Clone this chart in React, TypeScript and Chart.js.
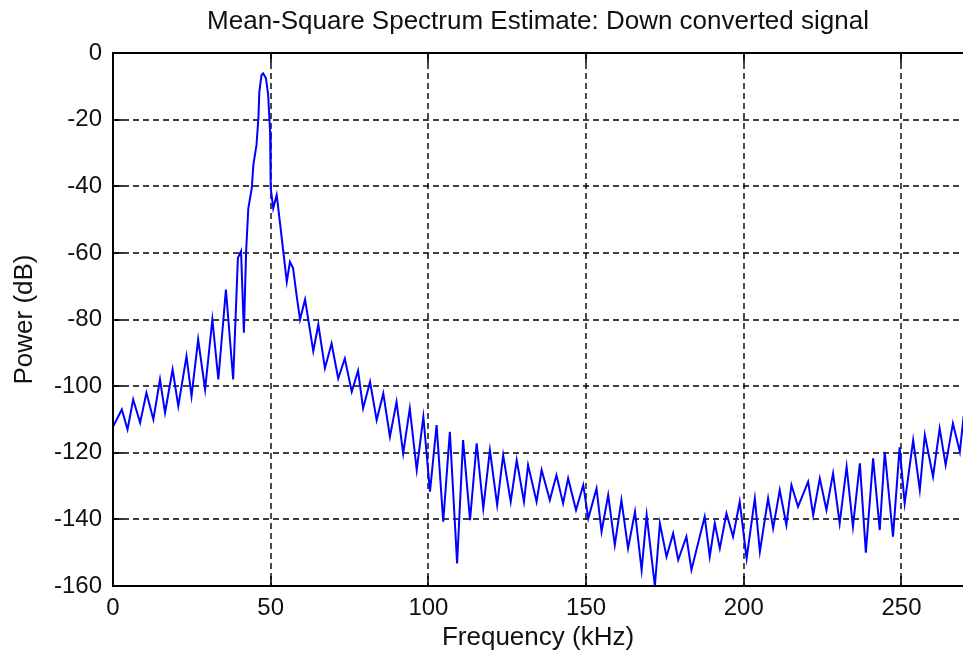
import React, { useEffect, useRef } from "react";
import { Chart, registerables } from "chart.js";

Chart.register(...registerables);

// ---- Data ----
const freqKHz = [
  0.1, 2.8, 4.6, 6.4, 8.6, 10.6, 12.8, 14.9, 16.5, 18.9, 20.7, 23.3, 24.9, 27.0, 29.2, 31.5, 33.4, 35.8, 38.1,
  39.6, 40.6, 41.5, 42.2, 42.9, 44.0, 44.5, 45.5, 46.1, 46.4, 47.1, 47.6, 48.5, 49.2, 49.8, 50.0, 50.8, 51.9,
  52.9, 54.0, 55.1, 56.1, 57.1, 58.2, 59.3, 60.9, 63.5, 65.1, 67.2, 69.3, 71.4, 73.5, 75.7, 77.7, 79.3, 81.5,
  83.6, 85.7, 87.8, 89.9, 92.0, 94.1, 96.3, 98.4, 100.5, 102.6, 104.7, 106.8, 109.1, 111.0, 113.2, 115.3,
  117.4, 119.5, 121.8, 123.7, 126.1, 128.0, 130.3, 131.6, 134.3, 135.9, 138.5, 140.6, 142.7, 144.3, 146.8,
  149.1, 150.7, 153.3, 154.9, 157.0, 159.1, 161.2, 163.3, 165.5, 167.6, 169.2, 171.8, 173.4, 175.5, 177.6,
  179.2, 181.8, 183.4, 187.6, 189.2, 190.8, 192.4, 194.5, 196.6, 198.7, 200.9, 203.5, 205.1, 207.7, 209.3,
  211.4, 213.5, 215.1, 217.2, 220.4, 222.0, 224.1, 226.2, 228.3, 230.4, 232.6, 234.6, 236.8, 238.7, 241.0,
  243.1, 244.7, 247.3, 249.4, 251.0, 253.7, 255.8, 257.4, 260.0, 262.1, 264.0, 266.3, 268.5, 269.7,
];
const powerDB = [
  -112, -107, -113, -104, -111, -102, -110, -98, -108, -95, -106, -91, -103, -86, -101, -80, -98, -71, -98,
  -61.5, -59.5, -84, -59.7, -46.6, -40.6, -33.6, -27.6, -19.6, -11.6, -6.6, -6.1, -7.6, -12.6, -23.6, -40.6,
  -46.6, -42.6, -50.6, -59.6, -68.7, -62.7, -64.6, -72.7, -80, -74, -89.5, -81.5, -94.6, -87.2, -97.7, -91.7,
  -101.7, -95.4, -106.7, -98.7, -110.2, -102.2, -115.2, -104.7, -120.2, -106.7, -125.2, -109.2, -131.7,
  -111.7, -140.7, -113.7, -153.2, -116.2, -140.2, -117.2, -136.7, -119.2, -135.7, -120.7, -134.7, -122.2,
  -134.7, -123.7, -134.7, -125.2, -134.2, -126.7, -135.2, -127.7, -137.2, -129.7, -139.7, -130.7, -143.7,
  -132.7, -147.7, -134.2, -148.7, -137.7, -155.2, -138.7, -160, -141.2, -151.2, -144.2, -152.2, -145.2,
  -155.2, -139.2, -151.2, -141.2, -148.7, -138.2, -145.2, -134.7, -151.7, -133.7, -149.7, -133.7, -142.7,
  -131.2, -141.7, -129.7, -136.2, -128.7, -138.7, -127.7, -137.2, -126.2, -141.2, -124.2, -142.2, -123.2,
  -150, -121.7, -143.2, -119.7, -145.2, -118.4, -135.2, -116.2, -131.2, -114.7, -127.2, -112.7, -123.7,
  -111.2, -119.7, -109,
];
const xTicksKHz = [0, 50, 100, 150, 200, 250];
const yTicksDB = [0, -20, -40, -60, -80, -100, -120, -140, -160];
const xRange = [0, 269.5];
const yRange = [-160, 0];
const chartTitle = "Mean-Square Spectrum Estimate: Down converted signal";
const xLabel = "Frequency (kHz)";
const yLabel = "Power (dB)";

const FONT = '"Liberation Sans", Arial, Helvetica, sans-serif';
const TEXT = "#111";

export default function App() {
  const ref = useRef<HTMLCanvasElement | null>(null);

  useEffect(() => {
    const canvas = ref.current;
    if (!canvas) return;

    const framePlugin = {
      id: "matlabFrame",
      beforeDatasetsDraw(chart: any) {
        const { ctx, chartArea: a, scales } = chart;
        ctx.save();
        ctx.strokeStyle = "#000";
        ctx.lineWidth = 1.4;
        ctx.setLineDash([6, 4]);
        for (const v of xTicksKHz) {
          const px = Math.round(scales.x.getPixelForValue(v));
          ctx.beginPath();
          ctx.moveTo(px, a.top);
          ctx.lineTo(px, a.bottom);
          ctx.stroke();
        }
        for (const v of yTicksDB) {
          const py = Math.round(scales.y.getPixelForValue(v));
          ctx.beginPath();
          ctx.moveTo(a.left, py);
          ctx.lineTo(a.right, py);
          ctx.stroke();
        }
        ctx.restore();
      },
      afterDatasetsDraw(chart: any) {
        const { ctx, chartArea: a, scales } = chart;
        ctx.save();
        ctx.strokeStyle = "#000";
        ctx.setLineDash([]);
        ctx.lineWidth = 2;
        ctx.beginPath();
        ctx.moveTo(a.right + 2, a.top);
        ctx.lineTo(a.left, a.top);
        ctx.lineTo(a.left, a.bottom);
        ctx.lineTo(a.right + 2, a.bottom);
        ctx.stroke();
        ctx.lineWidth = 1.6;
        const tl = 10;
        for (const v of xTicksKHz) {
          const px = Math.round(scales.x.getPixelForValue(v));
          ctx.beginPath();
          ctx.moveTo(px, a.bottom);
          ctx.lineTo(px, a.bottom - tl);
          ctx.moveTo(px, a.top);
          ctx.lineTo(px, a.top + tl);
          ctx.stroke();
        }
        for (const v of yTicksDB) {
          const py = Math.round(scales.y.getPixelForValue(v));
          ctx.beginPath();
          ctx.moveTo(a.left, py);
          ctx.lineTo(a.left + tl, py);
          ctx.stroke();
        }
        ctx.restore();
      },
      afterDraw(chart: any) {
        const { ctx, chartArea: a } = chart;
        ctx.save();
        ctx.fillStyle = TEXT;
        ctx.textAlign = "center";
        ctx.textBaseline = "middle";
        ctx.font = `26px ${FONT}`;
        ctx.fillText(chartTitle, (a.left + a.right) / 2, 22);
        ctx.fillText(xLabel, (a.left + a.right) / 2, 638);
        ctx.translate(25, (a.top + a.bottom) / 2);
        ctx.rotate(-Math.PI / 2);
        ctx.fillText(yLabel, 0, 0);
        ctx.restore();
      },
    };

    const points = freqKHz.map((f, i) => ({ x: f, y: powerDB[i] }));

    const chart = new Chart(canvas, {
      type: "line",
      data: {
        datasets: [
          {
            data: points,
            borderColor: "#0000ff",
            borderWidth: 2,
            pointRadius: 0,
            tension: 0,
            fill: false,
          },
        ],
      },
      options: {
        responsive: false,
        animation: false,
        devicePixelRatio: 1,
        layout: { padding: { top: 53, left: 0, right: 0, bottom: 0 } },
        plugins: {
          legend: { display: false },
          tooltip: { enabled: false },
          title: { display: false },
        },
        scales: {
          x: {
            type: "linear",
            min: xRange[0],
            max: xRange[1],
            afterFit: (s: any) => {
              s.height = 69;
            },
            afterBuildTicks: (s: any) => {
              s.ticks = xTicksKHz.map((v) => ({ value: v }));
            },
            grid: { display: false, drawTicks: false },
            border: { display: false },
            ticks: {
              padding: 8,
              autoSkip: false,
              maxRotation: 0,
              color: TEXT,
              font: { family: FONT, size: 24 },
              callback: (v: any) => String(v),
            },
          },
          y: {
            type: "linear",
            min: yRange[0],
            max: yRange[1],
            afterFit: (s: any) => {
              s.width = 113;
            },
            afterBuildTicks: (s: any) => {
              s.ticks = yTicksDB.map((v) => ({ value: v }));
            },
            grid: { display: false, drawTicks: false },
            border: { display: false },
            ticks: {
              padding: 11,
              autoSkip: false,
              color: TEXT,
              font: { family: FONT, size: 24 },
              callback: (v: any) => String(v),
            },
          },
        },
      },
      plugins: [framePlugin],
    });

    return () => chart.destroy();
  }, []);

  return (
    <div
      style={{
        position: "fixed",
        left: 0,
        top: 0,
        width: 963,
        height: 655,
        background: "#fff",
        overflow: "hidden",
      }}
    >
      <canvas ref={ref} width={963} height={655} style={{ display: "block" }} />
    </div>
  );
}
